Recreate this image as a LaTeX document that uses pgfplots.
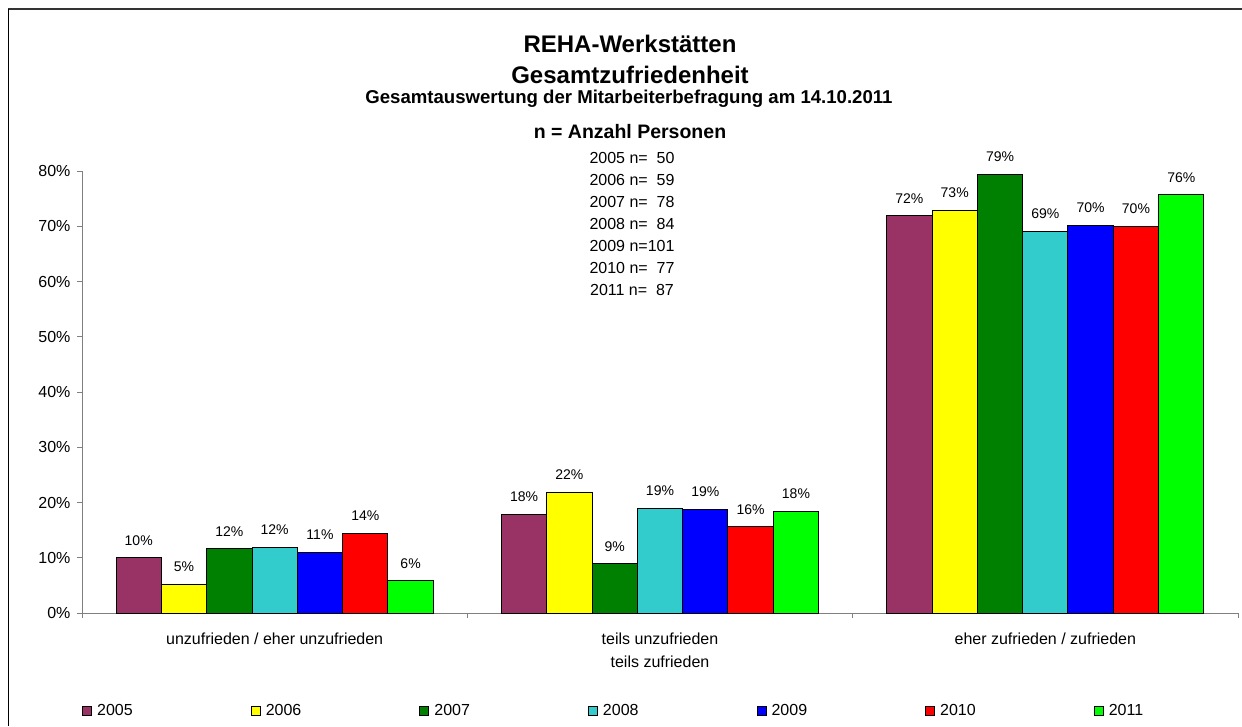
\documentclass[border=0pt]{standalone}
\usepackage{fontspec}
\setmainfont{Liberation Sans}
\usepackage{pgfplots}
\pgfplotsset{compat=1.18}
\definecolor{c05}{RGB}{153,51,102}
\definecolor{c06}{RGB}{255,255,0}
\definecolor{c07}{RGB}{0,128,0}
\definecolor{c08}{RGB}{51,204,204}
\definecolor{c09}{RGB}{0,0,255}
\definecolor{c10}{RGB}{255,0,0}
\definecolor{c11}{RGB}{0,255,0}
\definecolor{axgray}{RGB}{128,128,128}

\begin{document}
\begin{tikzpicture}[x=1pt,y=1pt]
\useasboundingbox (0,0) rectangle (1242,726);
% chart frame (cut off at right and bottom)
\draw[line width=2pt, black!80] (8,717) -- (1242,717);
\draw[line width=1pt, black] (8,717) -- (8,0);
% titles
\node[anchor=base, font=\fontsize{24}{24}\selectfont\bfseries] at (630,673) {REHA-Werkstätten};
\node[anchor=base, font=\fontsize{24}{24}\selectfont\bfseries] at (630,642) {Gesamtzufriedenheit};
\node[anchor=base, font=\fontsize{18.6}{18}\selectfont\bfseries] at (629,622) {Gesamtauswertung der Mitarbeiterbefragung am 14.10.2011};
\node[anchor=base, font=\fontsize{19.5}{18}\selectfont\bfseries] at (630,587) {n = Anzahl Personen};
\node[anchor=north, align=center, inner sep=0pt, font=\fontsize{16}{22}\selectfont] at (632,574)
  {2005 n=\hspace{0.556em}50\\2006 n=\hspace{0.556em}59\\2007 n=\hspace{0.556em}78\\2008 n=\hspace{0.556em}84\\2009 n=101\\2010 n=\hspace{0.556em}77\\2011 n=\hspace{0.556em}87};
\begin{axis}[
  at={(82pt,113pt)}, anchor=south west,
  scale only axis, width=1156pt, height=442pt,
  xmin=-0.5, xmax=2.5, ymin=0, ymax=80,
  ybar=0pt, bar width=0.1176,
  axis x line*=bottom, axis y line*=left,
  axis line style={axgray, line width=1pt},
  tick align=outside,
  major tick length=5pt, minor tick length=5pt,
  ytick={0,10,...,80},
  yticklabel={\pgfmathprintnumber{\tick}\%},
  y tick style={axgray, line width=1pt},
  xtick={0,1,2},
  xticklabels={unzufrieden / eher unzufrieden, {teils unzufrieden\\teils zufrieden}, eher zufrieden / zufrieden},
  major x tick style={draw=none},
  minor xtick={-0.5,0.5,1.5,2.5},
  minor x tick style={axgray, line width=1pt},
  /pgf/number format/assume math mode=true,
  x tick label style={font=\fontsize{16}{23}\selectfont, align=center, yshift=-11pt},
  y tick label style={font=\fontsize{16}{16}\selectfont, xshift=-3pt},
  every axis plot/.append style={draw=black, line width=1pt},
  nodes near coords={\pgfmathprintnumber[fixed,precision=0]{\pgfplotspointmeta}\%},
  nodes near coords style={font=\fontsize{14}{14}\selectfont, anchor=south, inner sep=0pt, yshift=12pt, text=black},
  legend columns=7,
  legend image code/.code={\draw[#1, draw=black, line width=1pt] (0pt,-4.5pt) rectangle (9pt,4.5pt); \path (12pt,0pt);},
  legend style={at={(0,-0.2217)}, anchor=west, draw=none, fill=none, inner sep=0pt,
    font=\fontsize{16}{16}\selectfont,
    /tikz/every even column/.append style={column sep=116pt}},
  clip=false,
]
\addplot[fill=c05] coordinates {(0,10.0) (1,17.9) (2,71.9)};
\addlegendentry{2005}
\addplot[fill=c06] coordinates {(0,5.2) (1,21.9) (2,72.9)};
\addlegendentry{2006}
\addplot[fill=c07] coordinates {(0,11.6) (1,8.9) (2,79.4)};
\addlegendentry{2007}
\addplot[fill=c08] coordinates {(0,11.9) (1,19.0) (2,69.1)};
\addlegendentry{2008}
\addplot[fill=c09] coordinates {(0,11.0) (1,18.8) (2,70.2)};
\addlegendentry{2009}
\addplot[fill=c10] coordinates {(0,14.4) (1,15.6) (2,70.0)};
\addlegendentry{2010}
\addplot[fill=c11] coordinates {(0,5.8) (1,18.4) (2,75.7)};
\addlegendentry{2011}
\end{axis}
\end{tikzpicture}
\end{document}
